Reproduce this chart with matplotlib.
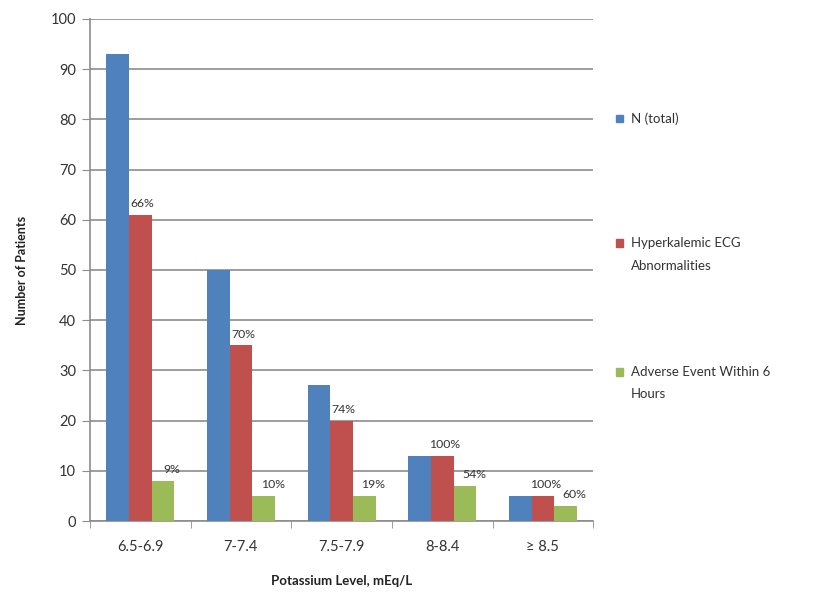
import numpy as np
import matplotlib
matplotlib.use('Agg')
import matplotlib.pyplot as plt
from matplotlib.patches import Rectangle

plt.rcParams['font.family'] = ['Lato', 'DejaVu Sans']

categories = ['6.5-6.9', '7-7.4', '7.5-7.9', '8-8.4', '\u2265 8.5']
series_names = ['N (total)', 'Hyperkalemic ECG\nAbnormalities',
                'Adverse Event Within 6\nHours']
n_total = [93, 50, 27, 13, 5]
ecg_abn = [61, 35, 20, 13, 5]
adverse = [8, 5, 5, 7, 3]
ecg_pct = ['66%', '70%', '74%', '100%', '100%']
adverse_pct = ['9%', '10%', '19%', '54%', '60%']

colors = ['#4F81BD', '#C0504D', '#9BBB59']
grid_c = '#8c8c8c'

fig = plt.figure(figsize=(8.32, 5.93), dpi=100)
ax = fig.add_axes([0.108, 0.1214, 0.605, 0.8466])

x = np.arange(len(categories))
w = 0.225

ax.bar(x - w, n_total, w, color=colors[0], zorder=3)
b_ecg = ax.bar(x, ecg_abn, w, color=colors[1], zorder=3)
b_adv = ax.bar(x + w, adverse, w, color=colors[2], zorder=3)

for rect, lab in zip(b_ecg, ecg_pct):
    ax.annotate(lab, (rect.get_x() + rect.get_width() * 0.6, rect.get_height()),
                xytext=(0, 4), textcoords='offset points',
                ha='center', va='bottom', fontsize=8.8, color='#333333')
for rect, lab in zip(b_adv, adverse_pct):
    ax.annotate(lab, (rect.get_x() + rect.get_width() * 0.9, rect.get_height()),
                xytext=(0, 4), textcoords='offset points',
                ha='center', va='bottom', fontsize=8.8, color='#333333')

ax.set_xlim(-0.5, len(categories) - 0.5)
ax.set_ylim(0, 100)
ax.set_yticks(np.arange(0, 101, 10))
ax.set_xticks(x)
ax.set_xticklabels(categories)
ax.set_xticks(np.arange(-0.5, len(categories)), minor=True)
ax.tick_params(axis='x', which='major', length=0, pad=14, labelsize=10.5, colors='#333333')
ax.tick_params(axis='x', which='minor', length=5, color=grid_c, direction='out')
ax.tick_params(axis='y', length=6, color=grid_c, labelsize=10.5, labelcolor='#333333', pad=4)

ax.yaxis.grid(True, color=grid_c, linewidth=1.2, zorder=0)
ax.set_axisbelow(True)
for s in ['top', 'right']:
    ax.spines[s].set_visible(False)
for s in ['left', 'bottom']:
    ax.spines[s].set_color(grid_c)
    ax.spines[s].set_linewidth(1.2)

ax.set_ylabel('Number of Patients', fontsize=9, fontweight='bold', labelpad=16, color='#222222')
ax.set_xlabel('Potassium Level, mEq/L', fontsize=9.5, fontweight='bold', labelpad=15, color='#222222')

# legend drawn by hand, entries spread down the right side
leg_y = [0.800, 0.590, 0.373]
for c, name, yy in zip(colors, series_names, leg_y):
    fig.add_artist(Rectangle((0.740, yy - 0.0065), 0.009, 0.013,
                             transform=fig.transFigure, color=c))
    fig.text(0.758, yy + 0.010, name, fontsize=9.5, va='top', ha='left',
             color='#333333', linespacing=2.05)

fig.savefig('out.png', dpi=100)
